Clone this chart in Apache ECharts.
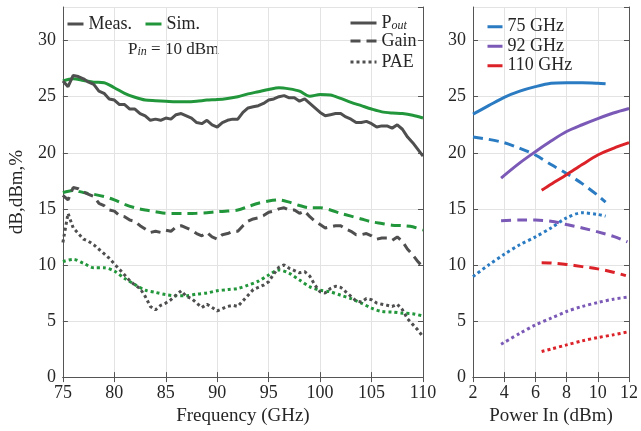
<!DOCTYPE html>
<html>
<head>
<meta charset="utf-8">
<script src="https://cdn.jsdelivr.net/npm/echarts@6/dist/echarts.min.js"></script>
<style>
  html, body { margin: 0; padding: 0; background: #fff; }
  #chart { width: 641px; height: 431px; }
</style>
</head>
<body>
<div id="chart"></div>
<script>
// left panel: frequency sweep at Pin = 10 dBm
const freqMeas = Array.from({ length: 71 }, (_, i) => 75 + i * 0.5)
const freqSim = Array.from({ length: 36 }, (_, i) => 75 + i)

const poutMeas = [26.4, 25.9, 26.9, 26.8, 26.6, 26.3, 26.1, 25.5, 25.3, 24.8, 24.7, 24.3, 24.3, 23.9, 23.9, 23.5, 23.3, 22.9, 23.0, 22.9,
  23.1, 23.0, 23.4, 23.5, 23.3, 23.1, 22.7, 22.6, 22.9, 22.5, 22.3, 22.7, 22.9, 23.0, 23.0, 23.6, 24.0, 24.1, 24.2, 24.4,
  24.7, 24.8, 25.0, 25.1, 24.9, 24.9, 24.6, 24.8, 24.4, 24.0, 23.6, 23.3, 23.4, 23.5, 23.5, 23.2, 23.0, 22.7, 22.7, 22.8,
  22.6, 22.3, 22.4, 22.4, 22.2, 22.5, 22.1, 21.4, 20.9, 20.3, 19.7]
const gainMeas = [16.2, 15.8, 16.9, 16.8, 16.5, 16.3, 16.1, 15.5, 15.3, 14.9, 14.8, 14.4, 14.3, 14.0, 13.9, 13.5, 13.2, 12.9, 13.0, 12.9,
  13.1, 13.0, 13.4, 13.5, 13.3, 13.1, 12.8, 12.6, 12.9, 12.5, 12.3, 12.7, 12.8, 13.0, 13.0, 13.5, 13.9, 14.1, 14.2, 14.4,
  14.7, 14.8, 15.0, 15.1, 14.9, 14.9, 14.6, 14.8, 14.3, 13.9, 13.6, 13.3, 13.4, 13.5, 13.5, 13.2, 13.0, 12.7, 12.7, 12.8,
  12.6, 12.3, 12.4, 12.4, 12.2, 12.5, 12.1, 11.4, 10.9, 10.3, 9.8]
const paeMeas = [12.0, 14.6, 13.3, 12.8, 12.3, 12.1, 11.8, 11.4, 11.0, 10.6, 10.1, 9.6, 9.1, 8.6, 8.2, 7.9, 7.2, 6.3, 6.0, 6.4,
  6.6, 6.9, 7.3, 7.7, 7.2, 7.0, 6.6, 6.2, 6.5, 6.2, 5.9, 6.1, 6.3, 6.4, 6.3, 6.8, 7.3, 7.8, 8.0, 8.2,
  8.5, 9.2, 9.8, 10.0, 9.7, 9.5, 9.3, 9.4, 9.0, 8.2, 7.6, 7.5, 7.9, 8.1, 8.0, 7.6, 7.2, 6.8, 6.7, 7.0,
  6.9, 6.6, 6.5, 6.4, 6.3, 6.5, 6.0, 5.2, 4.7, 4.2, 3.6]

const poutSim = [26.4, 26.6, 26.45, 26.3, 26.25, 25.8, 25.3, 24.95, 24.7, 24.65, 24.6, 24.55, 24.55, 24.6, 24.7, 24.75, 24.85, 25.0,
  25.25, 25.45, 25.65, 25.8, 25.7, 25.5, 25.05, 25.2, 25.15, 24.85, 24.5, 24.2, 23.9, 23.65, 23.55, 23.5, 23.35, 23.1]
const gainSim = [16.45, 16.65, 16.45, 16.3, 16.1, 15.8, 15.4, 15.1, 14.9, 14.75, 14.6, 14.58, 14.58, 14.6, 14.65, 14.75, 14.8, 14.9,
  15.2, 15.5, 15.7, 15.8, 15.6, 15.3, 15.1, 15.1, 14.9, 14.6, 14.35, 14.1, 13.85, 13.7, 13.55, 13.5, 13.4, 13.1]
const paeSim = [10.3, 10.5, 10.15, 9.75, 9.75, 9.45, 8.8, 8.25, 7.75, 7.55, 7.35, 7.25, 7.25, 7.4, 7.5, 7.7, 7.8, 7.9,
  8.2, 8.55, 9.1, 9.55, 9.25, 8.65, 8.05, 7.75, 7.6, 7.3, 7.0, 6.6, 6.15, 5.85, 5.8, 5.7, 5.65, 5.45]

// right panel: power sweep at three frequencies
const pin75 = [2, 3, 4, 5, 6, 7, 8, 9, 10, 10.5]
const pout75 = [23.45, 24.2, 24.95, 25.5, 25.9, 26.2, 26.25, 26.25, 26.2, 26.15]
const gain75 = [21.4, 21.2, 20.9, 20.4, 19.8, 18.95, 18.15, 17.25, 16.2, 15.6]
const pae75 = [8.96, 10.0, 10.95, 11.8, 12.5, 13.3, 14.2, 14.65, 14.5, 14.35]

const pin92 = [3.8, 5, 6, 7, 8, 9, 10, 11, 12]
const pout92 = [17.75, 19.1, 20.1, 21.05, 21.9, 22.5, 23.05, 23.55, 23.95]
const pin92Gain = [3.8, 5, 6, 7, 8, 9, 10, 11, 11.9]
const gain92 = [13.95, 14.0, 14.0, 13.9, 13.6, 13.3, 12.95, 12.55, 12.05]
const pae92 = [2.93, 3.9, 4.65, 5.25, 5.85, 6.3, 6.65, 6.95, 7.15]

const pin110 = [6.4, 7, 8, 9, 10, 11, 12]
const pout110 = [16.65, 17.2, 18.05, 18.95, 19.8, 20.4, 20.9]
const pin110Gain = [6.4, 7, 8, 9, 10, 11, 11.8]
const gain110 = [10.2, 10.18, 10.05, 9.85, 9.65, 9.35, 9.05]
const pae110 = [2.28, 2.5, 2.87, 3.23, 3.53, 3.77, 4.06]

const gray = '#4f4f4f'
const green = '#22963b'
const blue = '#2a7bc2'
const purple = '#7b59b6'
const red = '#dc2229'
const ink = '#262626'
const font = 'Liberation Serif'
const dash = [10, 6]
const dot = [3, 3]

function pairs (xs, ys) {
  return xs.map((x, i) => [x, ys[i]])
}

function line (name, xi, color, type, xs, ys, smooth) {
  return {
    name,
    type: 'line',
    xAxisIndex: xi,
    yAxisIndex: xi,
    data: pairs(xs, ys),
    symbol: 'none',
    smooth: smooth ? 0.3 : false,
    lineStyle: { color, width: 3, type, cap: 'butt' },
    itemStyle: { color }
  }
}

function legendOnly (name) {
  return {
    name,
    type: 'line',
    xAxisIndex: 0,
    yAxisIndex: 0,
    data: [],
    symbol: 'none',
    lineStyle: { color: gray, width: 3 },
    itemStyle: { color: gray }
  }
}

const tickLabel = { fontFamily: font, fontSize: 18, color: ink }
const boxLine = { show: true, lineStyle: { color: '#555', width: 1 } }
const split = { show: true, lineStyle: { color: '#e3e3e3', width: 1 } }
const ticks = { show: true, inside: true, length: 5, lineStyle: { color: '#555' } }

function xAxis (gi, min, max, interval, name) {
  return [{
    type: 'value', gridIndex: gi, min, max, interval, position: 'bottom',
    name, nameLocation: 'middle', nameGap: 27,
    nameTextStyle: { fontFamily: font, fontSize: 19, color: ink },
    axisLine: boxLine,
    axisTick: ticks,
    axisLabel: { ...tickLabel, margin: 7 },
    splitLine: split
  }, {
    type: 'value', gridIndex: gi, min, max, interval, position: 'top',
    axisLine: boxLine,
    axisTick: ticks,
    axisLabel: { show: false },
    splitLine: { show: false }
  }]
}

function yAxis (gi, name) {
  return [{
    type: 'value', gridIndex: gi, min: 0, max: 33, interval: 5, position: 'left',
    name, nameLocation: 'middle', nameGap: 33,
    nameTextStyle: { fontFamily: font, fontSize: 19, color: ink },
    axisLine: boxLine,
    axisTick: ticks,
    axisLabel: { ...tickLabel, margin: 7, showMaxLabel: false },
    splitLine: split
  }, {
    type: 'value', gridIndex: gi, min: 0, max: 33, interval: 5, position: 'right',
    axisLine: boxLine,
    axisTick: ticks,
    axisLabel: { show: false },
    splitLine: { show: false }
  }]
}

const richText = {
  p: { fontFamily: font, fontSize: 18, color: ink, lineHeight: 18, verticalAlign: 'top' },
  s: { fontFamily: font, fontSize: 12, fontStyle: 'italic', color: ink, lineHeight: 12, padding: [8, 0, 0, 0], verticalAlign: 'bottom' }
}

// one legend per line style so each icon keeps its own dash pattern
function styleLegend (name, top, type) {
  return {
    data: [name],
    left: 349, top, orient: 'vertical', padding: 0,
    itemWidth: 26, itemHeight: 10,
    formatter: n => n === 'Pout' ? '{p|P}{s|out}' : n,
    textStyle: { fontFamily: font, fontSize: 18, color: ink, rich: richText },
    itemStyle: { opacity: 0 },
    lineStyle: { type, width: 3, color: gray },
    selectedMode: false
  }
}

const option = {
  backgroundColor: '#fff',
  animation: false,
  grid: [
    { left: 56, right: 218, top: 7, bottom: 52 },
    { left: 473, right: 10, top: 7, bottom: 52 }
  ],
  xAxis: [...xAxis(0, 75, 110, 5, 'Frequency (GHz)'), ...xAxis(1, 2, 12, 2, 'Power In (dBm)')],
  yAxis: [...yAxis(0, 'dB,dBm,%'), ...yAxis(1, '')],
  legend: [{
    data: ['Meas.', 'Sim.'],
    left: 66, top: 15, orient: 'horizontal', padding: 0,
    itemWidth: 16, itemHeight: 10, itemGap: 12,
    textStyle: { fontFamily: font, fontSize: 18, color: ink },
    itemStyle: { opacity: 0 },
    lineStyle: { width: 3 },
    selectedMode: false
  },
  styleLegend('Pout', 12, 'solid'),
  styleLegend('Gain', 32, dash),
  styleLegend('PAE', 53, dot),
  {
    data: ['75 GHz', '92 GHz', '110 GHz'],
    left: 486, top: 17, orient: 'vertical', padding: 0,
    itemWidth: 15, itemHeight: 10, itemGap: 0,
    textStyle: { fontFamily: font, fontSize: 18, color: ink, lineHeight: 19.5 },
    itemStyle: { opacity: 0 },
    lineStyle: { width: 3 },
    selectedMode: false
  }],
  graphic: [{
    type: 'text',
    left: 128, top: 38,
    style: {
      text: '{p|P}{s|in}{p| = 10 dBm}',
      rich: {
        p: { fontFamily: font, fontSize: 17, fill: ink, lineHeight: 17, verticalAlign: 'top' },
        s: { fontFamily: font, fontSize: 12, fontStyle: 'italic', fill: ink, lineHeight: 12, padding: [8, 0, 0, 0], verticalAlign: 'bottom' }
      }
    }
  }],
  series: [
    line('Sim.', 0, green, 'solid', freqSim, poutSim, true),
    line('Sim. Gain', 0, green, dash, freqSim, gainSim, true),
    line('Sim. PAE', 0, green, dot, freqSim, paeSim, true),
    line('Meas.', 0, gray, 'solid', freqMeas, poutMeas, false),
    line('Meas. Gain', 0, gray, dash, freqMeas, gainMeas, false),
    line('Meas. PAE', 0, gray, dot, freqMeas, paeMeas, false),
    legendOnly('Pout'),
    legendOnly('Gain'),
    legendOnly('PAE'),
    line('75 GHz', 2, blue, 'solid', pin75, pout75, true),
    line('75 GHz Gain', 2, blue, dash, pin75, gain75, true),
    line('75 GHz PAE', 2, blue, dot, pin75, pae75, true),
    line('92 GHz', 2, purple, 'solid', pin92, pout92, true),
    line('92 GHz Gain', 2, purple, dash, pin92Gain, gain92, true),
    line('92 GHz PAE', 2, purple, dot, pin92, pae92, true),
    line('110 GHz', 2, red, 'solid', pin110, pout110, true),
    line('110 GHz Gain', 2, red, dash, pin110Gain, gain110, true),
    line('110 GHz PAE', 2, red, dot, pin110, pae110, true)
  ]
}

const chart = echarts.init(document.getElementById('chart'), null, { renderer: 'canvas' })
chart.setOption(option)
</script>
</body>
</html>
